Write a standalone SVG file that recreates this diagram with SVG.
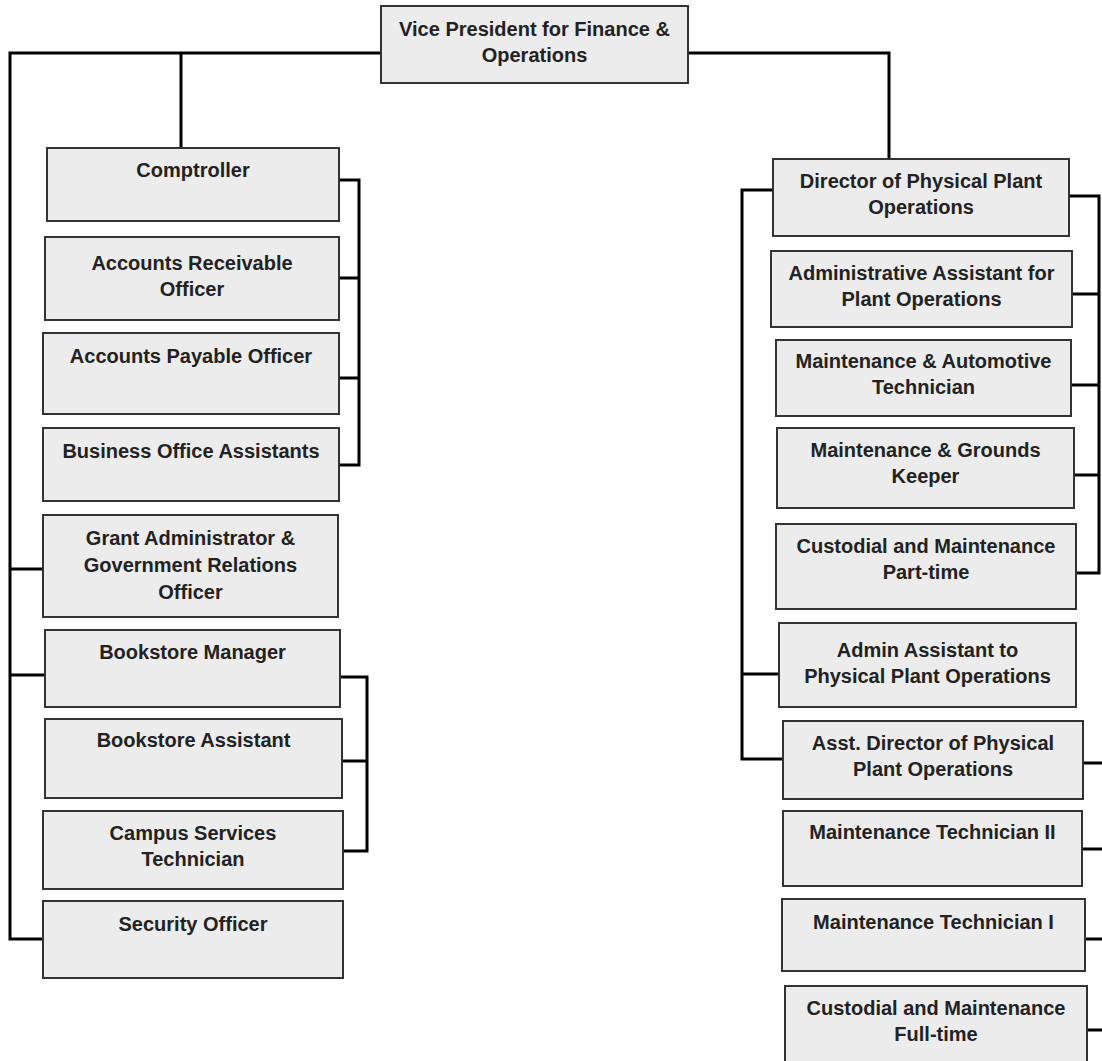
<svg xmlns="http://www.w3.org/2000/svg" width="1102" height="1061" viewBox="0 0 1102 1061">
<style>
.box{fill:#ececec;stroke:#333;stroke-width:2}
.t{font-family:"Liberation Sans Narrow","Arial Narrow","Liberation Sans",sans-serif;font-weight:bold;font-size:20px;fill:#222;text-anchor:middle}
.c{fill:none;stroke:#000;stroke-width:3}
</style>
<rect width="1102" height="1061" fill="#fff"/>
<g id="connectors">
<path class="c" d="M381,53H10V939H43M10,569H43M10,675H45M181,53V148"/>
<path class="c" d="M688,53H889V159"/>
<path class="c" d="M339,180H359V465H339M339,278H359M339,378H359"/>
<path class="c" d="M340,677H367V851H343M342,761H367"/>
<path class="c" d="M773,190H742V759H783M742,674H779"/>
<path class="c" d="M1069,196H1099V573H1076M1072,294H1099M1071,385H1099M1074,475H1099"/>
<path class="c" d="M1083,763H1102M1082,849H1102M1085,939H1102M1087,1030H1102"/>
</g>
<g id="vp"><rect class="box" x="381" y="6" width="307" height="77"/><text class="t" x="534.5" y="36">Vice President for Finance &amp;</text><text class="t" x="534.5" y="62">Operations</text></g>
<g id="comptroller"><rect class="box" x="47" y="148" width="292" height="73"/><text class="t" x="193" y="177">Comptroller</text></g>
<g id="ar"><rect class="box" x="45" y="237" width="294" height="83"/><text class="t" x="192" y="270">Accounts Receivable</text><text class="t" x="192" y="296">Officer</text></g>
<g id="ap"><rect class="box" x="43" y="333" width="296" height="81"/><text class="t" x="191" y="363">Accounts Payable Officer</text></g>
<g id="boa"><rect class="box" x="43" y="428" width="296" height="73"/><text class="t" x="191" y="458">Business Office Assistants</text></g>
<g id="grant"><rect class="box" x="43" y="515" width="295" height="102"/><text class="t" x="190.5" y="545">Grant Administrator &amp;</text><text class="t" x="190.5" y="572">Government Relations</text><text class="t" x="190.5" y="599">Officer</text></g>
<g id="bm"><rect class="box" x="45" y="630" width="295" height="77"/><text class="t" x="192.5" y="659">Bookstore Manager</text></g>
<g id="ba"><rect class="box" x="45" y="719" width="297" height="79"/><text class="t" x="193.5" y="747">Bookstore Assistant</text></g>
<g id="cst"><rect class="box" x="43" y="811" width="300" height="78"/><text class="t" x="193" y="840">Campus Services</text><text class="t" x="193" y="866">Technician</text></g>
<g id="so"><rect class="box" x="43" y="901" width="300" height="77"/><text class="t" x="193" y="931">Security Officer</text></g>
<g id="dppo"><rect class="box" x="773" y="159" width="296" height="77"/><text class="t" x="921" y="188">Director of Physical Plant</text><text class="t" x="921" y="214">Operations</text></g>
<g id="aapo"><rect class="box" x="771" y="251" width="301" height="76"/><text class="t" x="921.5" y="280">Administrative Assistant for</text><text class="t" x="921.5" y="306">Plant Operations</text></g>
<g id="mat"><rect class="box" x="776" y="340" width="295" height="76"/><text class="t" x="923.5" y="368">Maintenance &amp; Automotive</text><text class="t" x="923.5" y="394">Technician</text></g>
<g id="mgk"><rect class="box" x="777" y="428" width="297" height="80"/><text class="t" x="925.5" y="457">Maintenance &amp; Grounds</text><text class="t" x="925.5" y="483">Keeper</text></g>
<g id="cmpt"><rect class="box" x="776" y="524" width="300" height="85"/><text class="t" x="926" y="553">Custodial and Maintenance</text><text class="t" x="926" y="579">Part-time</text></g>
<g id="aappo"><rect class="box" x="779" y="623" width="297" height="84"/><text class="t" x="927.5" y="657">Admin Assistant to</text><text class="t" x="927.5" y="683">Physical Plant Operations</text></g>
<g id="adppo"><rect class="box" x="783" y="721" width="300" height="78"/><text class="t" x="933" y="750">Asst. Director of Physical</text><text class="t" x="933" y="776">Plant Operations</text></g>
<g id="mt2"><rect class="box" x="783" y="811" width="299" height="75"/><text class="t" x="932.5" y="839">Maintenance Technician II</text></g>
<g id="mt1"><rect class="box" x="782" y="899" width="303" height="72"/><text class="t" x="933.5" y="929">Maintenance Technician I</text></g>
<g id="cmft"><rect class="box" x="785" y="986" width="302" height="82"/><text class="t" x="936" y="1015">Custodial and Maintenance</text><text class="t" x="936" y="1041">Full-time</text></g>
</svg>
